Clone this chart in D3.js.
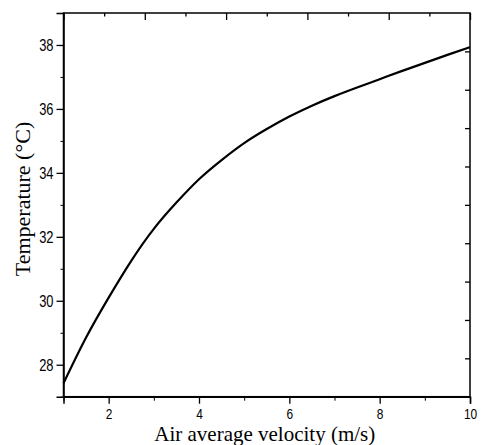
<!DOCTYPE html>
<html><head><meta charset="utf-8">
<script src="https://cdn.jsdelivr.net/npm/d3@7"></script>
<style>html,body{margin:0;padding:0;background:#fff;overflow:hidden}</style>
</head><body>
<svg id="c" width="481" height="445"></svg>
<script>
const velocity = [1, 1.5, 2, 2.5, 3, 3.5, 4, 4.5, 5, 5.5, 6, 6.5, 7, 7.5, 8, 8.5, 9, 9.5, 10];
const temperature = [27.42, 28.85, 30.1, 31.25, 32.25, 33.07, 33.8, 34.4, 34.93, 35.37, 35.76, 36.1, 36.4, 36.67, 36.93, 37.19, 37.44, 37.69, 37.93];
const xTicks = [2, 4, 6, 8, 10];
const xMinor = [1, 3, 5, 7, 9];
const yTicks = [28, 30, 32, 34, 36, 38];
const yMinor = [27, 29, 31, 33, 35, 37, 39];
const xTitle = "Air average velocity (m/s)";
const yTitle = "Temperature (\u00B0C)";

const L = 63.5, R = 470, T = 13, B = 396.7;
const svg = d3.select("#c");
const x = d3.scaleLinear().domain([1, 10]).range([L, R]);
const y = d3.scaleLinear().domain([27, 39]).range([B, T]);
const tickFont = "'Liberation Sans', Arial, sans-serif";
const serif = "'Liberation Serif', 'Times New Roman', serif";

// minor ticks
svg.append("g").attr("transform", `translate(0,${B})`)
  .call(d3.axisBottom(x).tickValues(xMinor).tickSize(4).tickFormat(""))
  .call(g => g.select(".domain").remove());
svg.append("g").attr("transform", `translate(${L},0)`)
  .call(d3.axisLeft(y).tickValues(yMinor).tickSize(3).tickFormat(""))
  .call(g => g.select(".domain").remove());

// bottom axis
const gx = svg.append("g").attr("transform", `translate(0,${B})`)
  .call(d3.axisBottom(x).tickValues(xTicks).tickSize(7).tickPadding(5).tickFormat(d3.format("d")));
gx.selectAll("text").attr("font-family", tickFont).attr("font-size", 14).attr("fill", "#000")
  .attr("transform", "scale(0.85,1)");
// left axis
const gy = svg.append("g").attr("transform", `translate(${L},0)`)
  .call(d3.axisLeft(y).tickValues(yTicks).tickSize(7).tickPadding(3).tickFormat(d3.format("d")));
gy.selectAll("text").attr("font-family", tickFont).attr("font-size", 17).attr("fill", "#000")
  .each(function(){ const s = d3.select(this); const xx = +s.attr("x");
    s.attr("x", 0).attr("transform", `translate(${xx},0) scale(0.76,1)`); });

[gx, gy].forEach(g => { g.selectAll("line").attr("stroke", "#000").attr("stroke-width", 1.3);
  g.select(".domain").attr("stroke", "#000").attr("stroke-width", 1.5); });

// top axis: inward ticks, 10 intervals
const xTop = d3.scaleLinear().domain([0, 10]).range([L, R]);
svg.append("g").attr("transform", `translate(0,${T})`)
  .call(d3.axisBottom(xTop).tickValues(d3.range(0, 11)).tickSize(0).tickFormat(""))
  .call(g => g.selectAll(".tick line").attr("y2", d => d % 2 === 0 ? 7 : 3.5)
    .attr("stroke", "#000").attr("stroke-width", 1.3))
  .call(g => g.select(".domain").remove());
// right axis: inward ticks
const yRight = d3.scaleLinear().domain([0, 10]).range([B, T]);
svg.append("g").attr("transform", `translate(${R},0)`)
  .call(d3.axisRight(yRight).tickValues(d3.range(1, 10)).tickSize(-5).tickFormat(""))
  .call(g => g.selectAll(".tick line").attr("stroke", "#000").attr("stroke-width", 1.3))
  .call(g => g.select(".domain").remove());

svg.selectAll(".tick line").attr("stroke", "#000");

// frame
svg.append("rect").attr("x", L).attr("y", T).attr("width", R - L).attr("height", B - T)
  .attr("fill", "none").attr("stroke", "#000").attr("stroke-width", 1.5);

// curve
const line = d3.line().x((d, i) => x(velocity[i])).y(d => y(d)).curve(d3.curveNatural);
svg.append("path").datum(temperature).attr("d", line)
  .attr("fill", "none").attr("stroke", "#000").attr("stroke-width", 2.2);

// titles
svg.append("text").attr("x", (L + R) / 2 - 2).attr("y", 440.5).attr("text-anchor", "middle")
  .attr("font-family", serif).attr("font-size", 21).text(xTitle);
svg.append("text").attr("transform", `translate(30,${199}) rotate(-90)`).attr("text-anchor", "middle")
  .attr("font-family", serif).attr("font-size", 22).text(yTitle);
</script>
</body></html>
